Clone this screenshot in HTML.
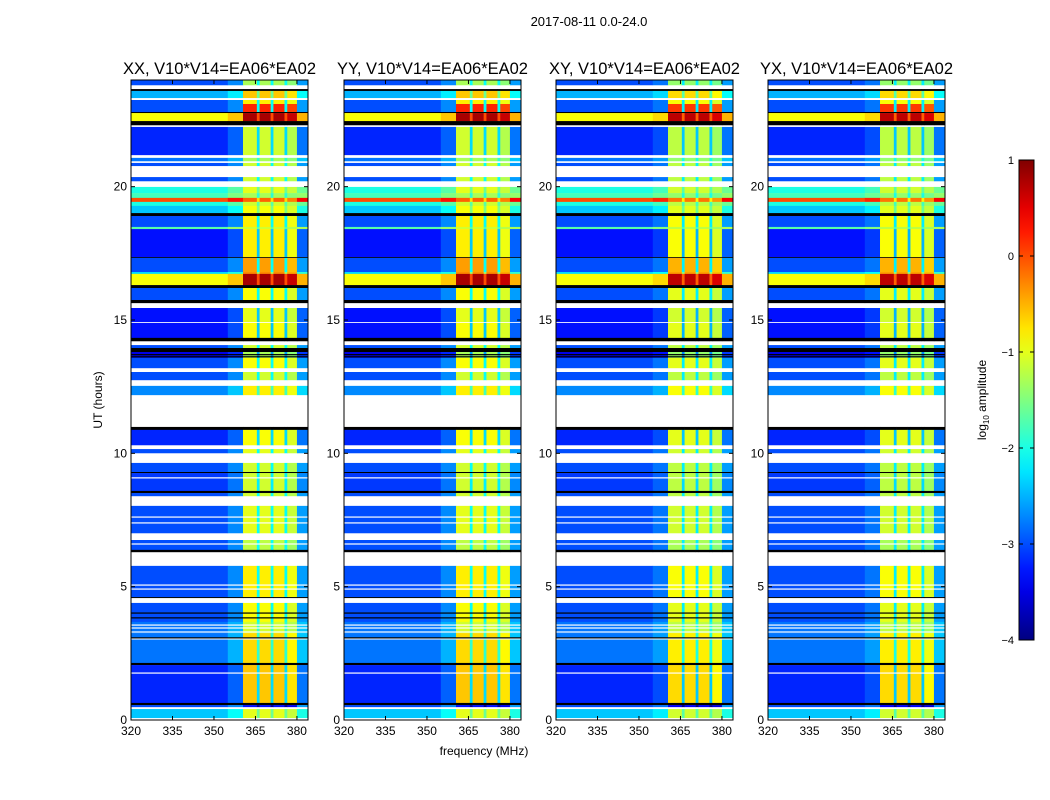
<!DOCTYPE html>
<html><head><meta charset="utf-8"><style>
body{margin:0;background:#fff;font-family:"Liberation Sans","DejaVu Sans",sans-serif;}
svg{display:block}
text{font-family:"Liberation Sans","DejaVu Sans",sans-serif;}
</style></head><body>
<svg id="fig" width="1050" height="800" viewBox="0 0 1050 800" xmlns="http://www.w3.org/2000/svg">
<rect width="1050" height="800" fill="#fff"/>
<text x="589" y="26" font-size="13" text-anchor="middle">2017-08-11 0.0-24.0</text>
<text x="484" y="755" font-size="12" text-anchor="middle">frequency (MHz)</text>
<text transform="translate(102,400) rotate(-90)" font-size="12" text-anchor="middle">UT (hours)</text>
<g id="panels"></g>
<g id="cbar"></g>
</svg>
<script>
// ---- data ----
const panelTitles = ["XX, V10*V14=EA06*EA02","YY, V10*V14=EA06*EA02","XY, V10*V14=EA06*EA02","YX, V10*V14=EA06*EA02"];
const panelOffset = [0, 0, -0.1, -0.1];
const xTicks = [320,335,350,365,380];
const yTicks = [0,5,10,15,20];
const cbTicks = [1,0,-1,-2,-3,-4];
// frequency column edges (MHz) and column kind offsets
const freqEdges = [320,355,360.5,365.5,366.5,370.5,371.5,375.5,376.5,380,384];
const colKind = ["bg","trans","band","stripe","band","stripe","band","stripe","band2","edge"];
// time rows (hours): top, bottom, background log-amp, band log-amp; null = flagged (white), "k" = black
const rowTop = [24.0,23.81,23.66,23.59,23.33,23.25,23.1,22.8,22.76,22.46,22.31,22.24,21.19,21.08,20.96,20.89,20.78,20.36,20.21,19.99,19.76,19.58,19.43,19.28,19.01,18.9,18.49,18.41,17.36,17.33,16.8,16.73,16.31,16.2,15.75,15.64,15.45,14.93,14.89,14.33,14.21,14.06,13.95,13.8,13.58,13.2,13.05,12.75,12.53,12.19,10.99,10.88,10.31,10.16,10.01,9.64,9.3,9.26,8.59,8.51,8.4,8.03,7.01,6.75,6.38,6.3,5.78,4.61,4.58,4.39,3.68,3.26,2.14,2.06,0.64,0.56,0.49,0.41,0.08];
const rowBottom = [23.81,23.66,23.59,23.33,23.25,23.1,22.8,22.76,22.46,22.31,22.24,21.19,21.08,20.96,20.89,20.78,20.36,20.21,19.99,19.76,19.58,19.43,19.28,19.01,18.9,18.49,18.41,17.36,17.33,16.8,16.73,16.31,16.2,15.75,15.64,15.45,14.93,14.89,14.33,14.21,14.06,13.95,13.8,13.58,13.2,13.05,12.75,12.53,12.19,10.99,10.88,10.31,10.16,10.01,9.64,9.3,9.26,8.59,8.51,8.4,8.03,7.01,6.75,6.38,6.3,5.78,4.61,4.58,4.39,3.68,3.26,2.14,2.06,0.64,0.56,0.49,0.41,0.08,0];
const rowBg = [-3,null,"k",-2.5,null,-3,-3,"k",-0.9,"k",null,-3.2,null,-2.8,null,-3,null,-3,null,-2,-1.8,0,-2,-2.4,"k",-3,-1.7,-3.3,"k",-3,-2.3,-0.9,"k",-3,"k",null,-3.3,null,-3.3,"k",null,-3,"k",-3.5,-3,null,-3,null,-2.7,null,"k",-3.2,null,-3,null,-3,"k",-3.1,"k",-3,null,-3,null,-3,"k",null,-3,"k",null,-3,-2.8,-2.8,"k",-3.2,"k",-3,null,-2.4,null];
const rowBand = [-1,null,"k",-0.3,null,-0.5,0.5,"k",1.1,"k",null,-0.8,null,-1,null,-0.8,null,-0.8,null,-0.7,-1,0.2,-0.8,-0.6,"k",-0.5,-0.8,-0.5,"k",-0.1,0,1.1,"k",-0.6,"k",null,-0.7,null,-0.6,"k",null,-0.8,"k",-1,-0.6,null,-0.8,null,-0.5,null,"k",-0.6,null,-0.7,null,-0.8,"k",-0.8,"k",-0.8,null,-0.7,null,-0.9,"k",null,-0.5,"k",null,-0.6,-0.8,-0.4,"k",-0.3,"k",-3,null,-0.7,null];
const thinWhite = [9.08,7.61,7.39,6.6,5.06,4.91,3.56,3.45,3.3,3.04,1.76];
const thinBlack = [4.01,3.83,3.08,13.7,13.62];

// ---- helpers ----
const NS="http://www.w3.org/2000/svg";
function jet(v){
  let t=Math.max(0,Math.min(1,(v+4)/5));
  const f=(x)=>Math.max(0,Math.min(1,x));
  const r=f(Math.min(4*t-1.5,-4*t+4.5)), g=f(Math.min(4*t-0.5,-4*t+3.5)), b=f(Math.min(4*t+0.5,-4*t+2.5));
  return `rgb(${Math.round(r*255)},${Math.round(g*255)},${Math.round(b*255)})`;
}
function mk(tag,attrs,parent){const e=document.createElementNS(NS,tag);for(const k in attrs)e.setAttribute(k,attrs[k]);parent.appendChild(e);return e;}
const panelLeft=[131,344,556,768], pw=177, plotTop=80, plotBottom=720;
const xMin=320,xMax=384,yMin=0,yMax=24;
const bandShift=-0.3;
function colVal(kind,bg,band){
  if(kind==="bg")return bg;
  if(kind==="trans")return bg+0.3;
  if(kind==="band")return band+bandShift;
  if(kind==="band2")return band+bandShift-0.15;
  if(kind==="stripe")return Math.min(band+bandShift,bg+1.5)-0.6;
  return bg+0.4;
}
const root=document.getElementById("panels");
panelTitles.forEach((title,p)=>{
  const L=panelLeft[p];
  const sx=f=>L+(f-xMin)/(xMax-xMin)*pw;
  const sy=h=>plotBottom-(h-yMin)/(yMax-yMin)*(plotBottom-plotTop);
  const g=mk("g",{},root);
  
  
  for(let r=0;r<rowTop.length;r++){
    const y0=sy(rowTop[r]), y1=sy(rowBottom[r]);
    const bg=rowBg[r], band=rowBand[r];
    if(bg===null||bg===undefined)continue;
    for(let c=0;c<colKind.length;c++){
      const x0=sx(freqEdges[c]), x1=sx(freqEdges[c+1]);
      let fill;
      if(bg==="k")fill="#000";
      else fill=jet(colVal(colKind[c],bg,band)+(colKind[c]==="bg"||colKind[c]==="edge"?0:panelOffset[p]));
      const e=mk("rect",{x:x0.toFixed(2),y:y0.toFixed(2),width:(x1-x0+0.3).toFixed(2),height:(y1-y0+0.2).toFixed(2),fill:fill},g);
      
      
    }
  }
  thinWhite.forEach(h=>{const e=mk("rect",{x:L,y:sy(h)-0.6,width:pw,height:1.2,fill:"#fff"},g);
    
    });
  thinBlack.forEach(h=>{const e=mk("rect",{x:L,y:sy(h)-0.6,width:pw,height:1.2,fill:"#000"},g);
    
    });
  const fr=mk("rect",{x:L,y:plotTop,width:pw,height:plotBottom-plotTop,fill:"none",stroke:"#000","stroke-width":1},g);
  
  
  const t=mk("text",{x:L+pw/2,y:74,"font-size":16.5,"text-anchor":"middle"},g);t.textContent=title;
  
  
  xTicks.forEach(v=>{const x=sx(v);
    mk("line",{x1:x,x2:x,y1:plotBottom,y2:plotBottom-4,stroke:"#000"},g);
    mk("line",{x1:x,x2:x,y1:plotTop,y2:plotTop+4,stroke:"#000"},g);
    const tt=mk("text",{x:x,y:plotBottom+15,"font-size":12,"text-anchor":"middle"},g);tt.textContent=v;
    
    });
  yTicks.forEach(v=>{const y=sy(v);
    mk("line",{x1:L,x2:L+4,y1:y,y2:y,stroke:"#000"},g);
    mk("line",{x1:L+pw,x2:L+pw-4,y1:y,y2:y,stroke:"#000"},g);
    const tt=mk("text",{x:L-4,y:y+4,"font-size":12,"text-anchor":"end"},g);tt.textContent=v;
    
    });
});
// colorbar
const cb=document.getElementById("cbar");
const cbX=1019,cbW=15,cbTop=160,cbBot=640;
const defs=mk("defs",{},cb);
const grad=mk("linearGradient",{id:"jetg",x1:0,y1:1,x2:0,y2:0},defs);
for(let i=0;i<=20;i++){mk("stop",{offset:i/20,"stop-color":jet(-4+5*i/20)},grad);}
mk("rect",{x:cbX,y:cbTop,width:cbW,height:cbBot-cbTop,fill:"url(#jetg)",stroke:"#000"},cb);
cbTicks.forEach(v=>{const y=cbBot-(v+4)/5*(cbBot-cbTop);
  mk("line",{x1:cbX,x2:cbX+4,y1:y,y2:y,stroke:"#000"},cb);
  mk("line",{x1:cbX+cbW,x2:cbX+cbW-4,y1:y,y2:y,stroke:"#000"},cb);
  const tt=mk("text",{x:cbX-5,y:y+4,"font-size":11,"text-anchor":"end"},cb);tt.textContent=(v<0?"\u2212"+(-v):v);
  
  });
const cl=mk("text",{transform:"translate(986,400) rotate(-90)","font-size":12,"text-anchor":"middle"},cb);
cl.innerHTML='log<tspan font-size="8" dy="3">10</tspan><tspan dy="-3"> amplitude</tspan>';


</script>
</body></html>
